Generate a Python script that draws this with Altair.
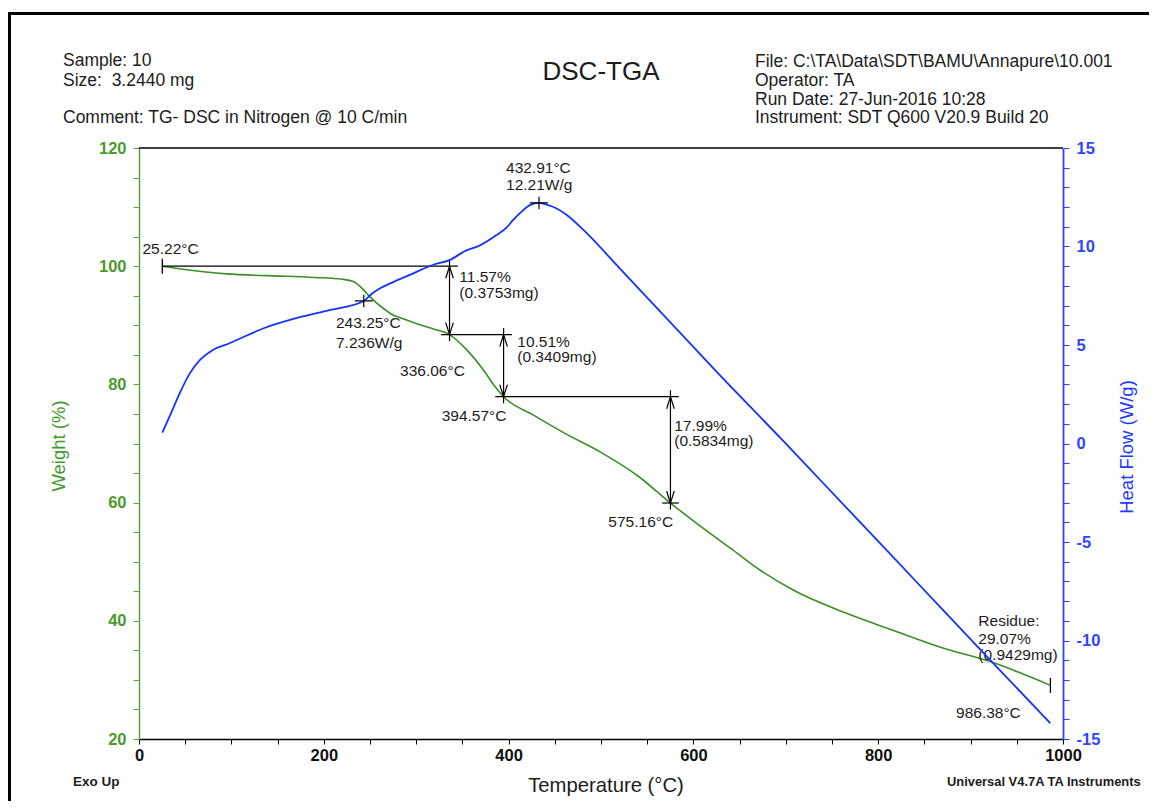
import altair as alt
import pandas as pd

# ---------------- data ----------------
# TGA weight curve (Temperature °C, Weight %)
tga_T = [25.22, 50, 70, 95, 140, 190, 220, 232, 243, 250, 257, 265, 272, 286, 300, 318,
         336.06, 355, 373, 384, 394.57, 427, 460, 500, 540, 575.16, 618, 640, 672, 708,
         765, 816, 870, 921, 986.38]
tga_W = [100.0, 99.45, 99.07, 98.7, 98.4, 98.1, 97.8, 97.4, 96.0, 94.8, 93.8, 92.8, 92.0, 91.1, 90.3, 89.4,
         88.43, 85.8, 82.4, 79.9, 77.92, 74.8, 71.8, 68.5, 64.5, 59.93, 54.8, 52.3, 48.6, 45.2,
         41.3, 38.4, 35.4, 33.1, 29.07]

# DSC heat flow curve (Temperature °C, Heat Flow W/g)
dsc_T = [25.22, 33, 44, 55, 66, 80, 98, 135, 170, 207, 243.25, 252, 261, 272, 295, 318, 336,
         355, 366, 387, 398, 405, 412, 423, 432.91, 441, 452, 463, 481, 517, 571, 625, 697,
         737, 816, 870, 921, 986.38]
dsc_H = [0.55, 1.36, 2.55, 3.56, 4.24, 4.75, 5.09, 5.85, 6.36, 6.78, 7.236, 7.6, 7.88, 8.13, 8.6, 9.06, 9.31,
         9.82, 9.99, 10.58, 10.97, 11.35, 11.68, 12.1, 12.21, 12.12, 11.93, 11.6, 10.84, 9.06, 6.35, 3.65, 0.14,
         -1.84, -5.76, -8.45, -10.98, -14.2]

# weight-loss steps
step_T = [25.22, 336.06, 394.57, 575.16]
step_W = [100.0, 88.43, 77.92, 59.93]
loss_pct = ["11.57%", "10.51%", "17.99%"]
loss_mg = ["(0.3753mg)", "(0.3409mg)", "(0.5834mg)"]

# DSC peaks
peak_T = [243.25, 432.91]
peak_H = [7.236, 12.21]

# residue
res_T = 986.38
res_W = 29.07
res_lines = ["Residue:", "29.07%", "(0.9429mg)"]

head_left = ["Sample: 10", "Size:\u00a0 3.2440 mg"]
head_comment = "Comment: TG- DSC in Nitrogen @ 10 C/min"
head_right = ["File: C:\\TA\\Data\\SDT\\BAMU\\Annapure\\10.001", "Operator: TA",
              "Run Date: 27-Jun-2016 10:28", "Instrument: SDT Q600 V20.9 Build 20"]
chart_title = "DSC-TGA"
x_title = "Temperature (°C)"
yl_title = "Weight (%)"
yr_title = "Heat Flow (W/g)"
foot_left = "Exo Up"
foot_right = "Universal V4.7A TA Instruments"

# ---------------- styles ----------------
FONT = "Liberation Sans"
GREEN_LINE = "#3a8f26"
GREEN_AX = "#5ba23a"
GREEN_LAB = "#4c9a2a"
BLUE_LINE = "#1433ff"
BLUE_AX = "#2a44ff"
BLUE_LAB = "#2f45ff"
TXT = "#1c1c1c"
ANN = 15.5

xs = alt.Scale(domain=[0, 1000], nice=False, zero=False)
ws = alt.Scale(domain=[20, 120], nice=False, zero=False)
hs = alt.Scale(domain=[-15, 15], nice=False, zero=False)

one = pd.DataFrame({"k": [0]})

x_axis = alt.Axis(values=list(range(0, 1001, 50)),
                  labelExpr="datum.value % 200 == 0 ? '' + datum.value : ''",
                  title=None, grid=False, domainColor="black", domainWidth=1.5,
                  tickColor="black", tickWidth=1, tickSize=5, labelColor="#111111",
                  labelFont=FONT, labelFontSize=16.5, labelFontWeight="bold",
                  labelPadding=3, labelFlush=False, labelOverlap=False)
wl_axis = alt.Axis(values=list(range(20, 121, 5)),
                   labelExpr="datum.value % 20 == 0 ? '' + datum.value : ''",
                   title=None, grid=False, domainColor=GREEN_AX, domainWidth=1.5,
                   tickColor=GREEN_AX, tickWidth=1, tickSize=6, labelColor=GREEN_LAB,
                   labelFont=FONT, labelFontSize=16.5, labelFontWeight="bold",
                   labelPadding=7, labelFlush=False, labelOverlap=False)
hr_axis = alt.Axis(orient="right", values=list(range(-15, 16)),
                   labelExpr="datum.value % 5 == 0 ? '' + datum.value : ''",
                   title=None, grid=False, domainColor=BLUE_AX, domainWidth=1.8,
                   tickColor=BLUE_AX, tickWidth=1, tickSize=6, labelColor=BLUE_LAB,
                   labelFont=FONT, labelFontSize=16.5, labelFontWeight="bold",
                   labelPadding=7, labelFlush=False, labelOverlap=False)


# every mark uses the same axis definition, so the shared axes merge into one
def X(field="T"):
    return alt.X(f"{field}:Q", scale=xs, axis=x_axis)


def YW(field="W"):
    return alt.Y(f"{field}:Q", scale=ws, axis=wl_axis)


def YH(field="H"):
    return alt.Y(f"{field}:Q", scale=hs, axis=hr_axis)


def dtext(T, Y, txt, dx, dy, heat=False):
    df = pd.DataFrame({"T": [T], ("H" if heat else "W"): [Y], "lab": [txt]})
    return alt.Chart(df).mark_text(align="left", baseline="alphabetic", dx=dx, dy=dy,
                                   font=FONT, fontSize=ANN, color=TXT).encode(
        x=X(), y=(YH() if heat else YW()), text="lab:N")


def ptext(txt, x, y, size, color=TXT, weight="normal", align="left", angle=0):
    return alt.Chart(one).mark_text(align=align, baseline="alphabetic", font=FONT,
                                    fontSize=size, fontWeight=weight, color=color,
                                    angle=angle).encode(
        x=alt.value(x), y=alt.value(y), text=alt.value(txt))


def tlab(T):
    return f"{T:.2f}°C"


# ---------------- weight (left axis) group ----------------
tga_df = pd.DataFrame({"T": tga_T, "W": tga_W})
tga_line = alt.Chart(tga_df).mark_line(color=GREEN_LINE, strokeWidth=1.6, interpolate="monotone").encode(
    x=X(), y=YW())

top_edge = alt.Chart(one).mark_rule(color="black", strokeWidth=1.5).encode(
    x=alt.datum(0, scale=xs, axis=x_axis), x2=alt.datum(1000),
    y=alt.datum(120, scale=ws, axis=wl_axis))

pad = 9.0   # °C overhang of the step lines
ext = 1.1   # % overhang of the arrow shafts
h_rows = [
    {"T": step_T[0], "T2": step_T[1] + pad, "W": step_W[0]},
    {"T": step_T[1] - pad, "T2": step_T[2] + pad, "W": step_W[1]},
    {"T": step_T[2] - pad, "T2": step_T[3] + pad, "W": step_W[2]},
    {"T": step_T[3] - pad, "T2": step_T[3] + pad, "W": step_W[3]},
]
h_lines = alt.Chart(pd.DataFrame(h_rows)).mark_rule(color="black", strokeWidth=1.2).encode(
    x=X(), x2="T2:Q", y=YW())

a_rows = [{"T": step_T[i + 1], "W": step_W[i] + ext, "W2": step_W[i + 1] - ext} for i in range(3)]
shafts = alt.Chart(pd.DataFrame(a_rows)).mark_rule(color="black", strokeWidth=1.2).encode(
    x=X(), y=YW(), y2="W2:Q")

up_df = pd.DataFrame({"T": step_T[1:], "W": step_W[:3]})
dn_df = pd.DataFrame({"T": step_T[1:], "W": step_W[1:]})
head_up = alt.Chart(up_df).mark_point(shape="M-0.6,1.9L0,0L0.6,1.9", size=160, filled=False,
                                      color="black", strokeWidth=1.2, opacity=1).encode(x=X(), y=YW())
head_dn = alt.Chart(dn_df).mark_point(shape="M-0.6,-1.9L0,0L0.6,-1.9", size=160, filled=False,
                                      color="black", strokeWidth=1.2, opacity=1).encode(x=X(), y=YW())

end_df = pd.DataFrame({"T": [step_T[0], res_T], "W": [step_W[0], res_W]})
end_ticks = alt.Chart(end_df).mark_point(shape="M0,-1L0,1", size=225, filled=False,
                                         color="black", strokeWidth=1.3, opacity=1).encode(x=X(), y=YW())

w_texts = [
    dtext(step_T[0], step_W[0], tlab(step_T[0]), -19.8, -12.7),
    dtext(step_T[1], step_W[1], tlab(step_T[1]), -49.5, 41.4),
    dtext(step_T[2], step_W[2], tlab(step_T[2]), -61.9, 24.2),
    dtext(step_T[3], step_W[3], tlab(step_T[3]), -62.1, 23.5),
    dtext(step_T[1], step_W[0], loss_pct[0], 9.8, 15.8),
    dtext(step_T[1], step_W[0], loss_mg[0], 9.8, 31.3),
    dtext(step_T[2], step_W[1], loss_pct[1], 13.7, 12.0),
    dtext(step_T[2], step_W[1], loss_mg[1], 13.7, 27.6),
    dtext(step_T[3], step_W[2], loss_pct[2], 3.8, 34.0),
    dtext(step_T[3], step_W[2], loss_mg[2], 3.8, 49.6),
    dtext(res_T, res_W, res_lines[0], -72.1, -58.9),
    dtext(res_T, res_W, res_lines[1], -72.1, -41.0),
    dtext(res_T, res_W, res_lines[2], -72.1, -25.2),
    dtext(res_T, res_W, tlab(res_T), -94.4, 32.6),
]

# page decoration (frame) and texts, in pixels relative to the plot area
frame_top = alt.Chart(one).mark_rule(color="black", strokeWidth=3).encode(
    x=alt.value(-131), x2=alt.value(1020), y=alt.value(-134.5))
frame_left = alt.Chart(one).mark_rule(color="black", strokeWidth=3).encode(
    x=alt.value(-129.5), y=alt.value(-136), y2=alt.value(700))

HS = 17.5
deco = [
    frame_top, frame_left,
    ptext(head_left[0], -76, -82, HS),
    ptext(head_left[1], -76, -62, HS),
    ptext(head_comment, -76, -25, HS),
    ptext(chart_title, 462, -68, 26, align="center"),
    ptext(head_right[0], 616, -81, HS),
    ptext(head_right[1], 616, -62, HS),
    ptext(head_right[2], 616, -43.5, HS),
    ptext(head_right[3], 616, -25, HS),
    ptext(x_title, 467, 644, 20.3, align="center"),
    ptext(yl_title, -74, 298, 18.5, color="#3f9a2c", align="center", angle=270),
    ptext(yr_title, 994, 299, 18.5, color="#2238ff", align="center", angle=270),
    ptext(foot_left, -66, 638, 13.5, weight="bold"),
    ptext(foot_right, 808, 637.5, 12.9, weight="bold"),
]

green = alt.layer(tga_line, top_edge, h_lines, shafts, head_up, head_dn, end_ticks, *w_texts, *deco)

# ---------------- heat flow (right axis) group ----------------
dsc_df = pd.DataFrame({"T": dsc_T, "H": dsc_H})
dsc_line = alt.Chart(dsc_df).mark_line(color=BLUE_LINE, strokeWidth=1.8, interpolate="monotone").encode(
    x=X(), y=YH())

peak_df = pd.DataFrame({"T": peak_T, "H": peak_H})
peak_marks = alt.Chart(peak_df).mark_point(shape="M-1,0L1,0M0,-0.7L0,0.7", size=324, filled=False,
                                           color="black", strokeWidth=1.2, opacity=1).encode(x=X(), y=YH())

h_texts = [
    dtext(peak_T[0], peak_H[0], tlab(peak_T[0]), -27.8, 27.0, heat=True),
    dtext(peak_T[0], peak_H[0], f"{peak_H[0]}W/g", -27.8, 46.8, heat=True),
    dtext(peak_T[1], peak_H[1], tlab(peak_T[1]), -33.0, -30.0, heat=True),
    dtext(peak_T[1], peak_H[1], f"{peak_H[1]}W/g", -33.0, -12.5, heat=True),
]

blue = alt.layer(dsc_line, peak_marks, *h_texts)

chart = alt.layer(green, blue).resolve_scale(y="independent").properties(
    width=924, height=591,
    padding={"left": 131, "top": 140, "right": 86, "bottom": 62},
    autosize=alt.AutoSizeParams(type="none"),
    background="white",
).configure_view(stroke=None)

chart.save("out.html", embed_options={"renderer": "svg", "actions": False})
